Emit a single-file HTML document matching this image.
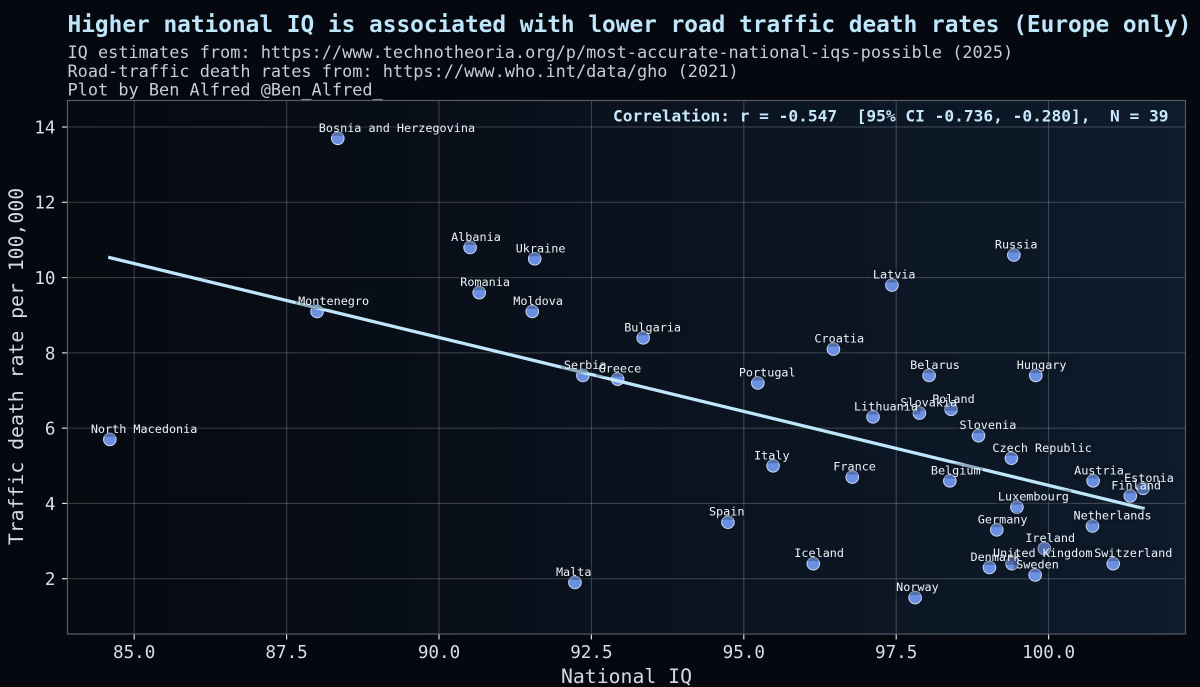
<!DOCTYPE html>
<html>
<head>
<meta charset="utf-8">
<title>National IQ vs road traffic death rates</title>
<style>
html,body{margin:0;padding:0;background:#05080f;}
svg{display:block;font-family:"DejaVu Sans Mono","Liberation Mono",monospace;}
</style>
</head>
<body>
<svg id="chart" width="1200" height="687" viewBox="0 0 1200 687" xmlns="http://www.w3.org/2000/svg">
<defs>
<linearGradient id="plotBg" x1="0" y1="0" x2="1" y2="0">
<stop offset="0" stop-color="#060910"/>
<stop offset="1" stop-color="#0e1b2b"/>
</linearGradient>
</defs>
<rect x="0" y="0" width="1200" height="687" fill="#05080f"/>
<text x="67.5" y="32" font-size="22.78" font-weight="700" fill="#bfe6fb">Higher national IQ is associated with lower road traffic death rates (Europe only)</text>
<text x="67.5" y="58" font-size="16.9" fill="#c3ced8">IQ estimates from: https://www.technotheoria.org/p/most-accurate-national-iqs-possible (2025)</text>
<text x="67.5" y="77" font-size="16.9" fill="#c3ced8">Road-traffic death rates from: https://www.who.int/data/gho (2021)</text>
<text x="67.5" y="95.5" font-size="16.9" fill="#c3ced8">Plot by Ben Alfred @Ben_Alfred_</text>
<rect x="67.5" y="100.5" width="1118" height="533.5" fill="url(#plotBg)"/>
<g id="grid"></g>
<g id="axes"></g>
<g id="points"></g>
<g id="trend"></g>
<g id="label-boxes"></g>
<g id="labels"></g>
<rect x="67.5" y="100.5" width="1118" height="533.5" fill="none" stroke="#565b64" stroke-width="1.2"/>
<text x="613" y="121.5" font-size="16.2" font-weight="700" fill="#c6e8fb" xml:space="preserve">Correlation: r = -0.547  [95% CI -0.736, -0.280],  N = 39</text>
<text x="626.5" y="683" font-size="19.8" text-anchor="middle" fill="#d3dbe2">National IQ</text>
<text transform="translate(23,366.5) rotate(-90)" font-size="19.8" text-anchor="middle" fill="#d3dbe2">Traffic death rate per 100,000</text>
</svg>
<script>
const countries = ["North Macedonia","Montenegro","Bosnia and Herzegovina","Albania","Romania","Ukraine","Moldova","Malta","Serbia","Greece","Bulgaria","Spain","Portugal","Italy","Iceland","Croatia","France","Lithuania","Latvia","Slovakia","Norway","Belarus","Poland","Belgium","Slovenia","Denmark","Germany","United Kingdom","Czech Republic","Russia","Sweden","Hungary","Luxembourg","Ireland","Netherlands","Austria","Switzerland","Finland","Estonia"];
const iqValues = [84.6,88.0,88.34,90.51,90.66,91.57,91.53,92.23,92.36,92.93,93.35,94.74,95.23,95.48,96.14,96.47,96.78,97.12,97.43,97.88,97.81,98.04,98.4,98.38,98.85,99.03,99.15,99.4,99.39,99.43,99.78,99.79,99.48,99.93,100.72,100.73,101.06,101.34,101.55];
const deathRates = [5.7,9.1,13.7,10.8,9.6,10.5,9.1,1.9,7.4,7.3,8.4,3.5,7.2,5.0,2.4,8.1,4.7,6.3,9.8,6.4,1.5,7.4,6.5,4.6,5.8,2.3,3.3,2.4,5.2,10.6,2.1,7.4,3.9,2.8,3.4,4.6,2.4,4.2,4.4];
const trendIq = [84.6,101.55];
const trendRate = [10.53,3.87];
const xTicks = [85,87.5,90,92.5,95,97.5,100];
const yTicks = [2,4,6,8,10,12,14];

const NS = 'http://www.w3.org/2000/svg';
function xScale(v){ return 134.2 + (v - 85) * 60.96; }
function yScale(v){ return 578.7 - (v - 2) * 37.64; }
function make(tag, attrs, parent){
  const el = document.createElementNS(NS, tag);
  for (const k in attrs) el.setAttribute(k, attrs[k]);
  parent.appendChild(el);
  return el;
}
const grid = document.getElementById('grid');
const axes = document.getElementById('axes');
const points = document.getElementById('points');
const trend = document.getElementById('trend');
const labelBoxes = document.getElementById('label-boxes');
const labels = document.getElementById('labels');

xTicks.forEach(function(t){
  const x = xScale(t);
  const g = make('line', {x1:x, x2:x, y1:100.5, y2:634, stroke:'#ffffff', 'stroke-opacity':0.22, 'stroke-width':1}, grid);
  
  
  const m = make('line', {x1:x, x2:x, y1:634, y2:639.5, stroke:'#d8dee4', 'stroke-width':1.2}, axes);
  
  
  const l = make('text', {x:x, y:658, 'font-size':17.6, 'text-anchor':'middle', fill:'#d8dee4'}, axes);
  
  
  l.textContent = t.toFixed(1);
});
yTicks.forEach(function(t){
  const y = yScale(t);
  const g = make('line', {x1:67.5, x2:1185.5, y1:y, y2:y, stroke:'#ffffff', 'stroke-opacity':0.22, 'stroke-width':1}, grid);
  
  
  const m = make('line', {x1:62, x2:67.5, y1:y, y2:y, stroke:'#d8dee4', 'stroke-width':1.2}, axes);
  
  
  const l = make('text', {x:55.5, y:y + 6.4, 'font-size':17.6, 'text-anchor':'end', fill:'#d8dee4'}, axes);
  
  
  l.textContent = String(t);
});
countries.forEach(function(name, i){
  const cx = xScale(iqValues[i]);
  const cy = yScale(deathRates[i]);
  const c = make('circle', {cx:cx, cy:cy, r:6.3, fill:'#6b90e2', stroke:'#c8d5f2', 'stroke-width':1}, points);
  
  
});
const tl = make('line', {x1:xScale(trendIq[0]), y1:yScale(trendRate[0]), x2:xScale(trendIq[1]), y2:yScale(trendRate[1]), stroke:'#bfe6fb', 'stroke-width':3.3, 'stroke-linecap':'square'}, trend);


countries.forEach(function(name, i){
  const tx = xScale(iqValues[i]) - 19;
  const by = yScale(deathRates[i]) - 6.5;
  const w = name.length * 7.09;
  const b = make('rect', {x:tx - 2.5, y:by - 11, width:w + 5, height:15, rx:1.5, fill:'#0b1320', 'fill-opacity':0.28}, labelBoxes);
  
  
  const t = make('text', {x:tx, y:by, 'font-size':11.8, fill:'#eef3f8'}, labels);
  
  
  t.textContent = name;
});
</script>
</body>
</html>
